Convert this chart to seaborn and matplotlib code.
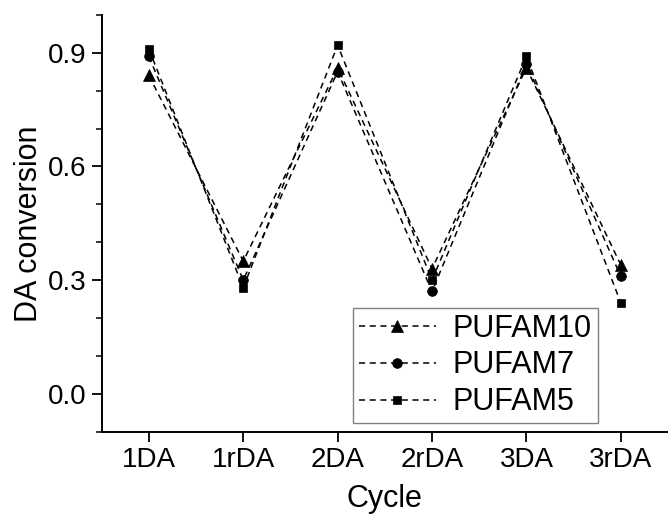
import numpy as np
import pandas as pd
import matplotlib
matplotlib.use("Agg")
import matplotlib.pyplot as plt
from matplotlib.ticker import MultipleLocator
import seaborn as sns

cycles = ["1DA", "1rDA", "2DA", "2rDA", "3DA", "3rDA"]
pufam10 = [0.84, 0.35, 0.86, 0.33, 0.86, 0.34]
pufam7 = [0.89, 0.30, 0.85, 0.27, 0.87, 0.31]
pufam5 = [0.91, 0.28, 0.92, 0.30, 0.89, 0.24]
series_names = ["PUFAM10", "PUFAM7", "PUFAM5"]
series_values = [pufam10, pufam7, pufam5]
series_markers = ["^", "o", "s"]
series_msize = [8, 7, 6]

rows = []
for name, vals in zip(series_names, series_values):
    for c, v in zip(cycles, vals):
        rows.append({"Cycle": c, "DA conversion": v, "Sample": name})
df = pd.DataFrame(rows)

sns.set_style("ticks")
plt.rcParams["font.family"] = ["Liberation Sans", "DejaVu Sans"]
plt.rcParams["text.color"] = "black"
plt.rcParams["axes.labelcolor"] = "black"

fig = plt.figure(figsize=(6.68, 5.14), dpi=100)
ax = fig.add_axes([0.1522, 0.1601, 0.8478, 0.8111])

sns.lineplot(
    data=df, x="Cycle", y="DA conversion", hue="Sample", style="Sample",
    hue_order=series_names, style_order=series_names,
    palette={n: "black" for n in series_names},
    markers=dict(zip(series_names, series_markers)),
    dashes={n: (4, 3) for n in series_names},
    sort=False, lw=1.1, markeredgecolor="black", markeredgewidth=0.5,
    legend=False, ax=ax,
)

lines = ax.get_lines()[:3]
for ln, ms in zip(lines, series_msize):
    ln.set_markersize(ms)

ax.set_xlim(-0.5, 5.5)
ax.set_ylim(-0.1, 1.0)
ax.set_yticks([0.0, 0.3, 0.6, 0.9])
ax.set_yticklabels(["0.0", "0.3", "0.6", "0.9"])
ax.yaxis.set_minor_locator(MultipleLocator(0.1))

ax.spines["top"].set_visible(False)
ax.spines["right"].set_visible(False)
for s in ["left", "bottom"]:
    ax.spines[s].set_linewidth(1.4)
    ax.spines[s].set_color("black")

ax.tick_params(axis="both", which="major", direction="out", length=7, width=1.3,
               labelsize=20, colors="black", labelcolor="black", pad=4)
ax.tick_params(axis="y", which="minor", direction="out", length=4, width=1.1, colors="black")
ax.tick_params(axis="x", which="minor", length=0)

ax.set_xlabel("Cycle", fontsize=22, labelpad=8, color="black")
ax.set_ylabel("DA conversion", fontsize=22, labelpad=3, color="black")

leg = ax.legend(lines, series_names, loc="lower left", bbox_to_anchor=(0.4438, 0.0201),
                borderaxespad=0, fontsize=22, handlelength=2.5, handletextpad=0.55,
                borderpad=0.2, labelspacing=0.22, frameon=True, fancybox=False)
for t in leg.get_texts():
    t.set_color("black")
leg.get_frame().set_edgecolor("#808080")
leg.get_frame().set_linewidth(1.0)
leg.get_frame().set_facecolor("white")
leg.get_frame().set_alpha(1)

fig.savefig("out.png", dpi=100)
